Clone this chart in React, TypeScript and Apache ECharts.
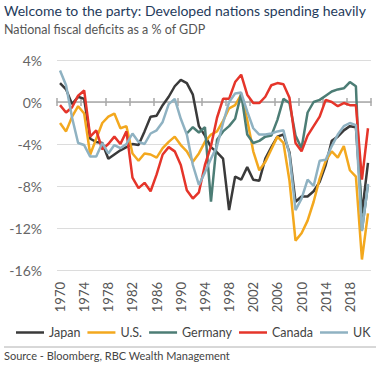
import React, { useEffect, useRef } from "react";
import * as echarts from "echarts";

const years: string[] = [];
for (let y = 1970; y <= 2021; y++) years.push(String(y));

const japan = [1.8, 1.2, -0.2, 0.5, 0.3, -3.5, -3.8, -3.9, -5.4, -5.0, -4.6, -4.3, -4.0, -4.1, -2.8, -1.4, -1.3, -0.3, 0.5, 1.5, 2.1, 1.8, 0.7, -2.3, -3.2, -4.3, -4.8, -5.4, -10.3, -7.1, -7.4, -6.2, -7.4, -7.5, -5.4, -4.3, -3.3, -3.1, -4.8, -9.5, -9.0, -9.0, -8.5, -7.6, -6.0, -3.7, -3.3, -2.7, -2.3, -2.4, -10.6, -5.8];
const us = [-2.0, -2.8, -1.4, -0.4, -1.1, -5.0, -3.5, -2.0, -1.4, -1.1, -2.5, -2.3, -4.9, -5.6, -4.9, -5.0, -5.3, -4.4, -3.8, -3.3, -4.1, -4.7, -5.7, -4.9, -3.8, -3.1, -2.8, -1.8, -0.6, -0.3, 0.7, -1.7, -4.7, -6.5, -5.7, -4.5, -3.3, -3.9, -7.5, -13.2, -12.5, -11.3, -9.5, -7.3, -5.6, -4.7, -5.3, -4.2, -6.5, -7.1, -15.0, -10.6];
const germany = [null, null, null, null, null, null, null, null, null, null, null, null, null, null, null, null, null, null, null, null, null, -3.0, -2.4, -2.9, -2.4, -9.5, -3.6, -2.8, -2.3, -1.6, 0.8, -3.1, -3.9, -3.7, -3.3, -3.2, -1.7, 0.3, -0.1, -3.2, -4.4, -1.0, 0.0, 0.2, 0.6, 1.0, 1.2, 1.3, 1.9, 1.5, -12.2, -7.9];
const canada = [-0.3, -1.0, -0.5, 0.6, 1.1, -3.3, -2.7, -4.5, -4.0, -3.3, -4.0, -2.8, -7.2, -8.2, -7.7, -8.5, -6.9, -5.0, -4.3, -4.7, -6.0, -8.4, -9.2, -8.6, -6.0, -4.2, -1.5, 0.3, 0.3, 1.9, 2.6, 0.7, -0.1, -0.1, 0.5, 1.6, 1.8, 1.7, 0.4, -3.9, -4.7, -3.2, -2.3, -1.4, 0.2, 0.0, -0.4, -0.1, -0.3, -0.3, -7.4, -2.5];
const uk = [3.0, 1.6, -1.5, -3.9, -4.1, -5.2, -5.2, -3.9, -4.9, -4.1, -4.4, -4.0, -3.0, -3.8, -4.0, -3.0, -2.7, -1.9, -0.2, 0.3, -1.6, -3.1, -6.0, -7.9, -6.7, -5.4, -4.2, -2.0, 0.0, 0.8, 0.9, -0.9, -2.5, -3.1, -3.1, -3.0, -2.8, -2.7, -5.0, -10.3, -9.2, -7.4, -8.0, -5.6, -5.5, -4.2, -3.1, -2.3, -2.0, -2.2, -12.3, -7.8];

const seriesNames = ["Japan", "U.S.", "Germany", "Canada", "UK"];
const seriesColors = ["#3a3a3a", "#f3a81e", "#4c7d75", "#e5352a", "#8fb2c2"];
const seriesData = [japan, us, germany, canada, uk];

const FONT = "Lato";

export default function App() {
  const ref = useRef<HTMLDivElement>(null);
  useEffect(() => {
    if (!ref.current) return;
    const chart = echarts.init(ref.current, undefined, { renderer: "svg" });
    const baseX = {
      type: "category",
      data: years,
      boundaryGap: true,
      gridIndex: 0,
    };
    chart.setOption({
      animation: false,
      textStyle: { fontFamily: FONT },
      grid: { left: 57, right: 13, top: 60, bottom: 97, containLabel: false },
      xAxis: [
        {
          ...baseX,
          position: "bottom",
          axisLine: { show: false, onZero: false },
          axisTick: { show: false },
          axisLabel: {
            interval: 3,
            rotate: 90,
            margin: 12,
            fontSize: 13,
            color: "#555",
            fontFamily: FONT,
          },
        },
        {
          ...baseX,
          position: "bottom",
          axisLine: { show: true, onZero: true, lineStyle: { color: "#a8a8a8", width: 1.5 } },
          axisTick: { show: true, interval: 3, length: 4, lineStyle: { color: "#a8a8a8", width: 1.5 } },
          axisLabel: { show: false },
        },
        {
          ...baseX,
          position: "bottom",
          axisLine: { show: false, onZero: true, onZeroAxisIndex: 1 },
          axisTick: { show: true, inside: true, interval: 3, length: 4, lineStyle: { color: "#a8a8a8", width: 1.5 } },
          axisLabel: { show: false },
        },
      ],
      yAxis: [
        {
          type: "value",
          min: -16,
          max: 4,
          interval: 4,
          axisLine: { show: false },
          axisTick: { show: false },
          splitLine: { lineStyle: { color: "#dcdcdc", width: 1 } },
          axisLabel: {
            formatter: "{value}%",
            margin: 15,
            fontSize: 14,
            color: "#666",
            fontFamily: FONT,
          },
        },
        {
          type: "value",
          min: -16,
          max: 4,
          interval: 4,
          show: false,
        },
      ],
      legend: {
        left: 16,
        top: 326,
        width: 370,
        padding: 0,
        icon: "rect",
        itemWidth: 28,
        itemHeight: 2.5,
        itemGap: 7,
        data: seriesNames,
        textStyle: { fontSize: 12.5, color: "#444", fontFamily: FONT },
      },
      series: seriesNames.map((name, i) => ({
        name,
        type: "line",
        xAxisIndex: 0,
        yAxisIndex: 0,
        data: seriesData[i],
        symbol: "none",
        connectNulls: false,
        lineStyle: { color: seriesColors[i], width: 2.5 },
        itemStyle: { color: seriesColors[i] },
      })),
      graphic: [
        {
          type: "text",
          left: 4,
          top: 3,
          style: {
            text: "Welcome to the party: Developed nations spending heavily",
            fontSize: 14,
            fill: "#1f3b5c",
            fontFamily: FONT,
          },
        },
        {
          type: "text",
          left: 4,
          top: 23,
          style: {
            text: "National fiscal deficits as a % of GDP",
            fontSize: 12.5,
            fill: "#555",
            fontFamily: FONT,
          },
        },
        {
          type: "line",
          shape: { x1: 4, y1: 347, x2: 376, y2: 347 },
          style: { stroke: "#b0b0b0", lineWidth: 1 },
        },
        {
          type: "text",
          left: 4,
          top: 350,
          style: {
            text: "Source - Bloomberg, RBC Wealth Management",
            fontSize: 11,
            fill: "#444",
            fontFamily: FONT,
          },
        },
      ],
    });
    return () => chart.dispose();
  }, []);
  return (
    <div
      ref={ref}
      style={{ position: "fixed", left: 0, top: 0, width: 384, height: 367, background: "#fff" }}
    />
  );
}
